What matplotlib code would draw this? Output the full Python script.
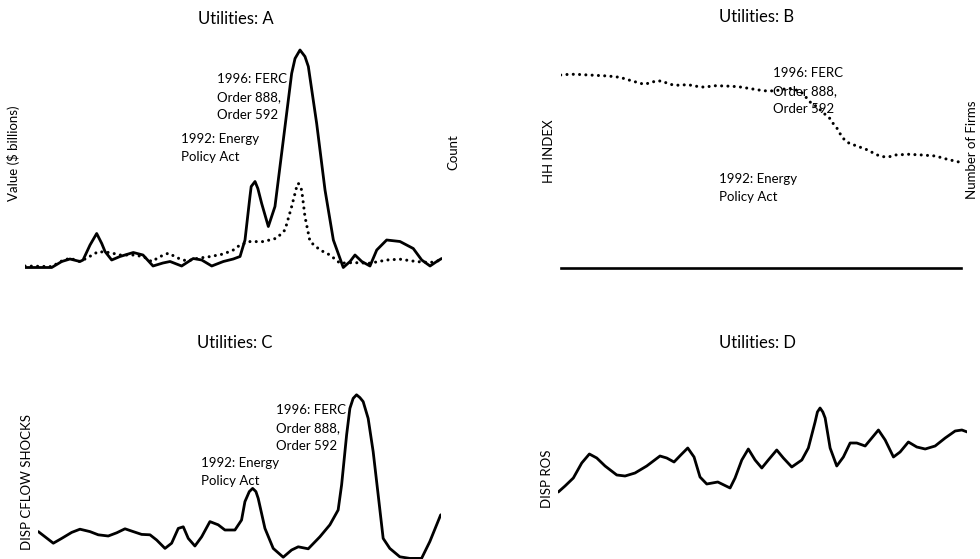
import matplotlib
matplotlib.use("Agg")
import matplotlib.pyplot as plt

plt.rcParams['font.family'] = ['Lato', 'DejaVu Sans']

# ---- Panel A: deal value (solid, $ billions) and deal count (dotted) ----
a_value_years = [1972.00, 1974.37, 1975.26, 1975.99, 1976.88, 1977.15, 1977.77, 1978.36,
                 1978.81, 1979.10, 1979.69, 1980.43, 1981.61, 1982.47, 1983.36, 1984.24,
                 1984.87, 1985.90, 1986.93, 1987.68, 1988.57, 1989.60, 1990.48, 1991.08,
                 1991.52, 1991.96, 1992.07, 1992.41, 1992.66, 1993.00, 1993.59, 1994.18,
                 1994.92, 1995.66, 1995.96, 1996.40, 1996.84, 1997.14, 1997.88, 1998.62,
                 1999.36, 2000.24, 2000.84, 2001.28, 2001.88, 2002.61, 2003.21, 2004.09,
                 2005.27, 2006.45, 2007.20, 2007.94, 2008.53, 2008.97]
a_value = [0.1, 0.1, 1.3, 1.8, 1.3, 1.6, 4.6, 6.9,
           4.9, 3.3, 1.6, 2.3, 3.1, 2.6, 0.4, 1.0,
           1.3, 0.4, 1.9, 1.6, 0.4, 1.3, 1.8, 2.3,
           5.6, 14.3, 16.3, 17.3, 15.9, 12.9, 8.3, 12.3,
           25.6, 38.9, 41.9, 43.6, 42.3, 40.3, 28.9, 15.6,
           5.6, 0.1, 1.3, 2.6, 1.3, 0.4, 3.6, 5.6,
           5.3, 3.9, 1.6, 0.4, 1.3, 1.9]
a_count_years = [1972.00, 1974.37, 1975.26, 1975.99, 1976.88, 1977.47, 1978.50, 1979.54,
                 1980.43, 1981.61, 1982.50, 1983.24, 1983.98, 1984.72, 1985.60, 1986.35,
                 1987.38, 1988.42, 1989.60, 1990.48, 1991.08, 1991.96, 1993.14, 1994.33,
                 1995.07, 1995.66, 1996.11, 1996.25, 1996.55, 1996.84, 1997.29, 1998.18,
                 1999.06, 1999.95, 2001.13, 2002.61, 2004.09, 2005.27, 2006.76, 2007.94,
                 2008.97]
a_count = [1.0, 0.7, 3.5, 4.9, 3.2, 4.9, 8.2, 7.7,
           6.5, 6.5, 5.7, 3.2, 5.7, 7.4, 4.9, 3.5,
           4.9, 5.7, 7.0, 9.0, 11.5, 13.2, 13.2, 14.9,
           19.0, 30.7, 40.7, 42.4, 39.0, 25.7, 13.2, 9.0,
           6.5, 2.4, 2.7, 2.4, 4.0, 4.4, 3.2, 2.7,
           4.0]

# ---- Panel B: HH index (dotted) ----
b_years = [1972.00, 1972.81, 1973.43, 1974.05, 1975.14, 1976.38, 1977.47, 1978.62,
           1979.71, 1980.32, 1980.88, 1981.44, 1982.00, 1982.60, 1983.77, 1984.93,
           1985.49, 1986.10, 1987.26, 1988.43, 1989.59, 1990.73, 1991.29, 1991.92,
           1992.53, 1993.16, 1993.78, 1994.40, 1995.02, 1995.49, 1995.95, 1996.42,
           1996.88, 1997.19, 1997.56, 1997.82, 1998.12, 1998.59, 1999.21, 2000.24,
           2001.29, 2001.85, 2002.41, 2002.94, 2004.18, 2005.43, 2006.67, 2007.76,
           2008.84]
b_hhi = [1930, 1937, 1937, 1933, 1927, 1920, 1907, 1870,
         1837, 1853, 1873, 1867, 1840, 1827, 1833, 1810,
         1810, 1823, 1820, 1813, 1793, 1773, 1770, 1773,
         1787, 1797, 1780, 1747, 1663, 1630, 1587, 1540,
         1497, 1447, 1397, 1347, 1297, 1253, 1227, 1187,
         1130, 1113, 1113, 1130, 1137, 1130, 1120, 1087,
         1060]

# ---- Panel C: dispersion of cash-flow shocks ----
c_years = [1972.00, 1972.62, 1973.38, 1974.15, 1975.07, 1975.83, 1976.75, 1977.51,
           1978.43, 1979.21, 1979.97, 1980.73, 1981.50, 1982.27, 1982.88, 1983.65,
           1984.26, 1984.87, 1985.33, 1985.79, 1986.40, 1987.02, 1987.78, 1988.54,
           1989.16, 1990.08, 1990.69, 1991.00, 1991.40, 1991.71, 1992.01, 1992.22,
           1992.84, 1993.60, 1994.52, 1995.29, 1995.90, 1996.82, 1997.89, 1998.81,
           1999.57, 1999.89, 2000.35, 2000.65, 2000.95, 2001.26, 2001.57, 2001.87,
           2002.33, 2002.79, 2003.25, 2003.71, 2004.32, 2005.24, 2006.16, 2007.24,
           2008.00, 2009.00]
c_shocks = [7.1, 5.8, 4.2, 5.4, 6.9, 7.7, 7.1, 6.3,
            6.0, 6.8, 7.8, 7.1, 6.4, 6.3, 5.0, 2.9,
            4.2, 7.9, 8.3, 5.4, 3.5, 5.8, 9.6, 8.8,
            7.5, 7.5, 10.0, 14.6, 17.1, 17.9, 17.1, 15.4,
            7.9, 2.9, 0.7, 2.5, 3.3, 2.8, 5.8, 8.8,
            12.5, 18.8, 31.3, 37.9, 40.4, 41.3, 40.6, 39.6,
            35.4, 27.1, 16.3, 5.4, 2.9, 0.8, 0.4, 0.4,
            4.6, 11.3]

# ---- Panel D: dispersion of return on sales ----
d_years = [1972.00, 1972.61, 1973.36, 1974.12, 1974.81, 1975.48, 1976.23, 1977.29,
           1978.04, 1978.94, 1980.00, 1981.20, 1981.81, 1982.47, 1983.08, 1983.71,
           1984.28, 1984.82, 1985.43, 1986.43, 1987.54, 1987.99, 1988.60, 1989.19,
           1989.80, 1990.41, 1991.00, 1991.76, 1992.36, 1993.12, 1994.03, 1994.62,
           1995.23, 1995.44, 1995.68, 1995.93, 1996.14, 1996.59, 1997.19, 1997.79,
           1998.40, 1999.00, 1999.76, 2000.36, 2000.96, 2001.57, 2002.32, 2002.92,
           2003.67, 2004.43, 2005.19, 2006.09, 2007.00, 2007.90, 2008.51, 2009.00]
d_ros = [3.8, 4.4, 5.2, 6.7, 7.6, 7.2, 6.4, 5.5,
         5.4, 5.7, 6.4, 7.4, 7.2, 6.8, 7.5, 8.2,
         7.3, 5.3, 4.6, 4.8, 4.2, 5.2, 7.0, 8.1,
         7.0, 6.2, 7.0, 8.0, 7.2, 6.3, 7.0, 8.2,
         10.8, 11.8, 12.2, 11.8, 11.2, 8.2, 6.4, 7.3,
         8.7, 8.7, 8.4, 9.2, 10.0, 9.0, 7.3, 7.8,
         8.8, 8.3, 8.1, 8.4, 9.2, 9.9, 10.0, 9.8]

ENERGY_ACT = "1992: Energy\nPolicy Act"
FERC = "1996: FERC\nOrder 888,\nOrder 592"

W, H = 980, 559
solid = dict(color='black', lw=2.0, solid_joinstyle='round', solid_capstyle='round')
dotted = dict(color='black', lw=2.2, linestyle=(0, (0.01, 2.05)), dash_capstyle='round')
ann_kw = dict(fontsize=9.5, linespacing=1.6, va='center', ha='left')


def make_axes(fig, left, right, top, bottom):
    # rectangle given in pixels (top-left origin)
    ax = fig.add_axes([left / W, (H - bottom) / H, (right - left) / W, (bottom - top) / H])
    ax.set_xticks([])
    ax.set_yticks([])
    for s in ax.spines.values():
        s.set_visible(False)
    ax.patch.set_alpha(0)
    return ax


def panel_text(ax, title, title_xy, ylabel, ylabel_xy):
    ax.text(*title_xy, title, transform=ax.transAxes, ha='center', va='center', fontsize=12)
    ax.text(*ylabel_xy, ylabel, transform=ax.transAxes, ha='center', va='center',
            rotation=90, fontsize=9.5)


fig = plt.figure(figsize=(W / 100, H / 100), dpi=100)

# Panel A
ax = make_axes(fig, 25, 442, 40, 278)
ax.plot(a_value_years, a_value, **solid)
ax.set_xlim(1972, 2009)
ax.set_ylim(-2, 45.6)
axt = ax.twinx()
axt.set_ylim(-5, 114)
axt.axis('off')
axt.plot(a_count_years, a_count, **dotted)
panel_text(ax, "Utilities: A", (0.505, 1.087), "Value ($ billions)", (-0.028, 0.525))
ax.text(1.027, 0.528, "Count", transform=ax.transAxes, rotation=90,
        ha='center', va='center', fontsize=9.5)
ax.text(1989.0, 34.2, FERC, **ann_kw)
ax.text(1985.84, 24.0, ENERGY_ACT, **ann_kw)

# Panel B
ax = make_axes(fig, 560.7, 960.7, 40, 268.3)
ax.plot(b_years, b_hhi, **dotted)
ax.set_xlim(1972, 2009)
ax.set_ylim(-3, 2280)
ax.spines['bottom'].set_visible(True)
ax.spines['bottom'].set_linewidth(1.9)
panel_text(ax, "Utilities: B", (0.49, 1.102), "HH INDEX", (-0.0285, 0.511))
ax.text(1.0275, 0.518, "Number of Firms", transform=ax.transAxes, rotation=90,
        ha='center', va='center', fontsize=9.5)
ax.text(1991.6, 1773, FERC, **ann_kw)
ax.text(1986.6, 803, ENERGY_ACT, **ann_kw)

# Panel C
ax = make_axes(fig, 38.3, 440.7, 385, 559)
ax.plot(c_years, c_shocks, **solid)
ax.set_xlim(1972, 2009)
ax.set_ylim(0.25, 43.75)
panel_text(ax, "Utilities: C", (0.489, 1.24), "DISP CFLOW SHOCKS", (-0.029, 0.444))
ax.text(1993.82, 32.9, FERC, **ann_kw)
ax.text(1986.95, 22.1, ENERGY_ACT, **ann_kw)

# Panel D
ax = make_axes(fig, 558.3, 967.3, 385, 559)
ax.plot(d_years, d_ros, **solid)
ax.set_xlim(1972, 2009)
ax.set_ylim(-2.9, 14.5)
panel_text(ax, "Utilities: D", (0.4875, 1.24), "DISP ROS", (-0.028, 0.464))

fig.savefig("out.png", dpi=100)
